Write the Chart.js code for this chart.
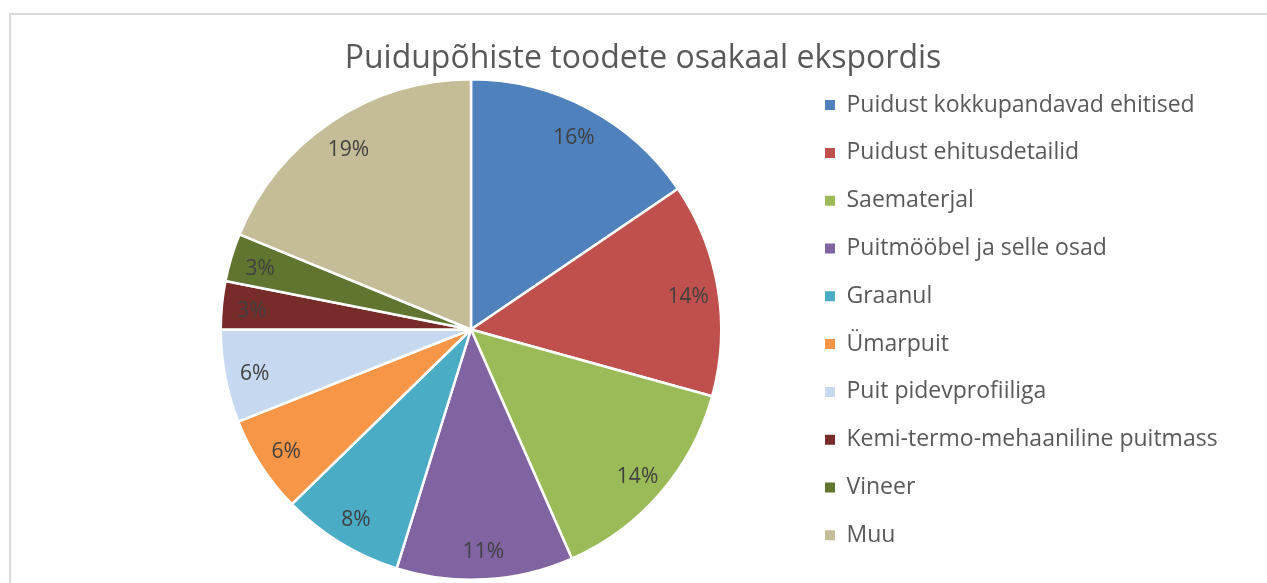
<!DOCTYPE html>
<html lang="et">
<head>
<meta charset="utf-8">
<title>Puidupõhiste toodete osakaal ekspordis</title>
<script src="https://cdn.jsdelivr.net/npm/chart.js@4.4.1/dist/chart.umd.min.js"></script>
<style>
  html, body { margin: 0; padding: 0; background: #fff; }
  #wrap { position: relative; width: 1267px; height: 583px; overflow: hidden; }
  #frame { position: absolute; left: 9px; top: 13px; width: 1300px; height: 620px;
           border-top: 2px solid #d9d9d9; border-left: 2px solid #d9d9d9; }
  canvas { position: absolute; left: 0; top: 0; }
</style>
</head>
<body>
<div id="wrap">
  <div id="frame"></div>
  <canvas id="exportChart" width="1267" height="583"></canvas>
</div>
<script>
// data (share of exports, %)
const categories = [
  "Puidust kokkupandavad ehitised",
  "Puidust ehitusdetailid",
  "Saematerjal",
  "Puitmööbel ja selle osad",
  "Graanul",
  "Ümarpuit",
  "Puit pidevprofiiliga",
  "Kemi-termo-mehaaniline puitmass",
  "Vineer",
  "Muu"
];
const shares = [15.5, 13.8, 14.1, 11.4, 7.9, 6.3, 6.0, 3.1, 3.1, 18.8];
const sliceColors = [
  "#4F81BD", "#C0504D", "#9BBB59", "#8064A2", "#4BACC6",
  "#F79646", "#C6D9F1", "#772C2A", "#5F7530", "#C4BD97"
];

const FONT = "'Open Sans'";

// percentage labels near the outer edge of each slice
const percentLabels = {
  id: "percentLabels",
  afterDatasetsDraw(chart) {
    const ctx = chart.ctx;
    const meta = chart.getDatasetMeta(0);
    const total = shares.reduce((a, b) => a + b, 0);
    ctx.save();
    ctx.font = "21px " + FONT;
    ctx.fillStyle = "#404040";
    ctx.textAlign = "center";
    ctx.textBaseline = "middle";
    meta.data.forEach((arc, i) => {
      const { x, y, startAngle, endAngle, outerRadius } =
        arc.getProps(["x", "y", "startAngle", "endAngle", "outerRadius"], true);
      const mid = (startAngle + endAngle) / 2;
      const r = outerRadius * 0.88;
      ctx.fillText(Math.round(shares[i] / total * 100) + "%",
        x + Math.cos(mid) * r, y + Math.sin(mid) * r + 3);
    });
    ctx.restore();
  }
};

// the legend clips to its box; long labels need the room up to the canvas edge
const legendToEdge = {
  id: "legendToEdge",
  afterLayout(chart) {
    const lg = chart.legend;
    lg.right = chart.width;
    lg.width = lg.right - lg.left;
  }
};

new Chart(document.getElementById("exportChart"), {
  type: "pie",
  data: {
    labels: categories,
    datasets: [{
      data: shares,
      backgroundColor: sliceColors,
      borderColor: "#ffffff",
      borderWidth: 2.5
    }]
  },
  options: {
    responsive: false,
    animation: false,
    layout: { padding: { left: 141.8, right: 122.8, top: 0, bottom: 2 } },
    plugins: {
      tooltip: { enabled: false },
      title: {
        display: true,
        text: "Puidupõhiste toodete osakaal ekspordis",
        color: "#595959",
        font: { family: FONT, size: 32, weight: "normal" },
        padding: { top: 39.6, bottom: 0 }
      },
      legend: {
        position: "right",
        align: "start",
        maxWidth: 344,
        // empty title only pushes the items down
        title: { display: true, text: "", font: { size: 10 }, padding: { top: 56.8, bottom: 0 } },
        labels: {
          boxWidth: 10,
          boxHeight: 10,
          padding: 24.8,
          color: "#595959",
          font: { family: FONT, size: 23 },
          generateLabels(chart) {
            const items = Chart.overrides.pie.plugins.legend.labels.generateLabels(chart);
            items.forEach((it) => { it.lineWidth = 0; });
            return items;
          }
        }
      }
    }
  },
  plugins: [percentLabels, legendToEdge]
});
</script>
</body>
</html>
